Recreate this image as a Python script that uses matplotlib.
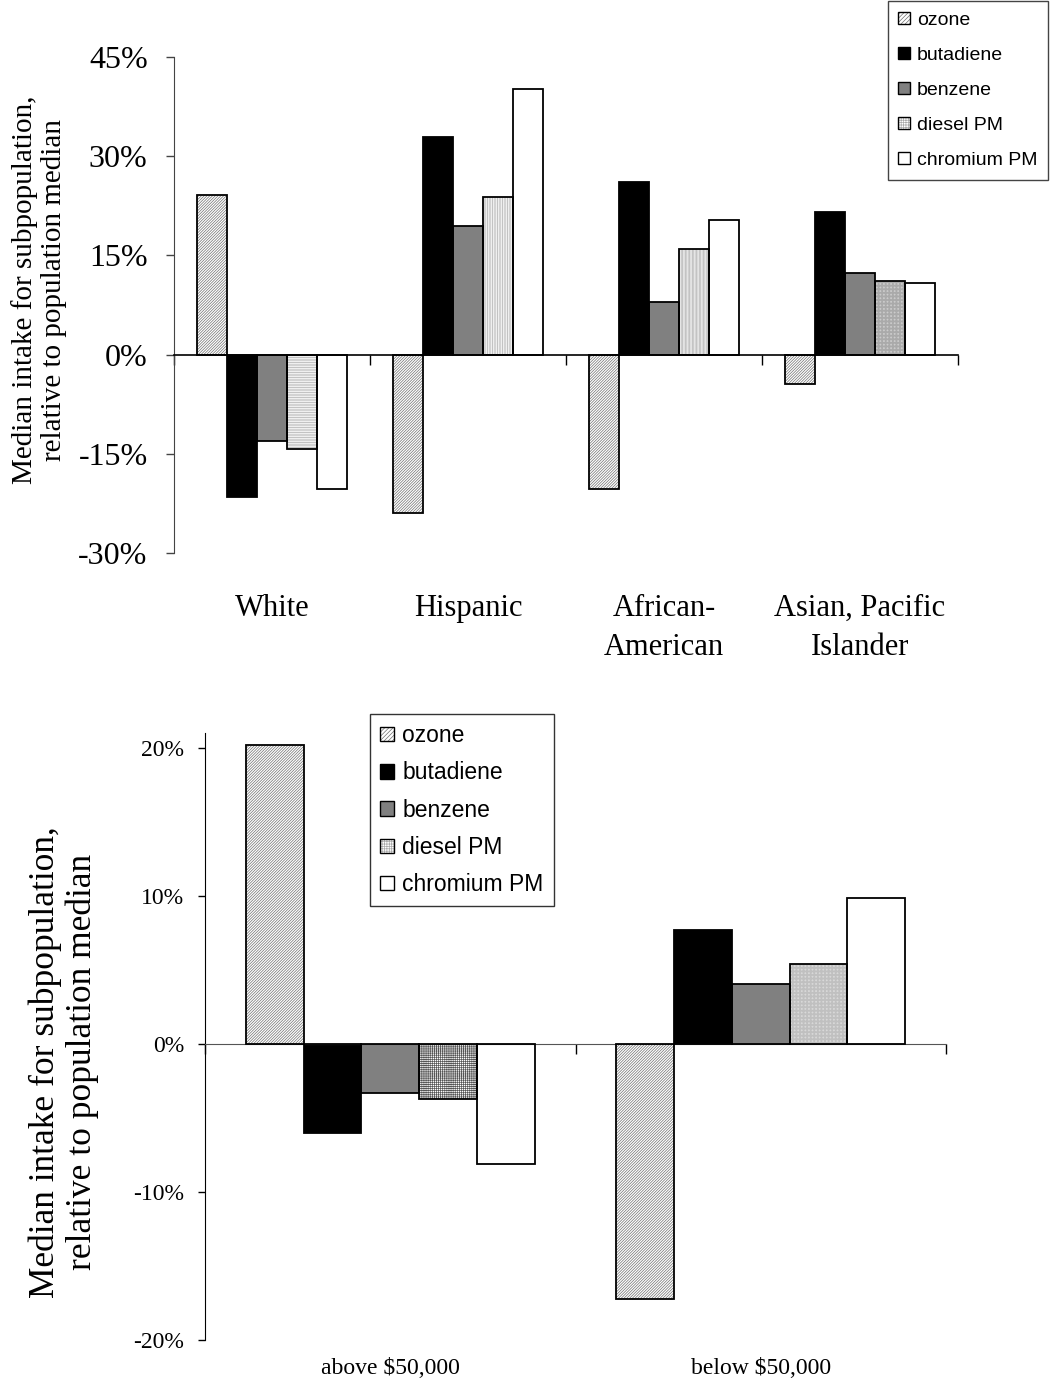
import numpy as np
import matplotlib
matplotlib.use('Agg')
import matplotlib.pyplot as plt
from matplotlib.patches import Patch
from matplotlib.legend_handler import HandlerTuple
from matplotlib.transforms import blended_transform_factory

plt.rcParams['font.family'] = ['Liberation Serif', 'DejaVu Serif']
plt.rcParams['hatch.linewidth'] = 0.5

# ---- data (percent relative to population median) ----
pollutants = ['ozone', 'butadiene', 'benzene', 'diesel PM', 'chromium PM']

race_groups = ['White', 'Hispanic', 'African-\nAmerican', 'Asian, Pacific\nIslander']
race_ozone = [24.2, -23.9, -20.4, -4.4]
race_butadiene = [-21.6, 32.9, 26.1, 21.5]
race_benzene = [-13.0, 19.5, 8.0, 12.4]
race_diesel = [-14.2, 23.9, 15.9, 11.2]
race_chromium = [-20.4, 40.2, 20.4, 10.9]

income_groups = ['above $50,000', 'below $50,000']
inc_ozone = [20.2, -17.2]
inc_butadiene = [-6.0, 7.7]
inc_benzene = [-3.3, 4.05]
inc_diesel = [-3.7, 5.4]
inc_chromium = [-8.1, 9.85]

# styles: (facecolor, hatch, hatch colour)
styles = [('white', '/' * 12, '#707070'),
          ('black', None, None),
          ('#808080', None, None),
          ('white', '+' * 10, '#aaaaaa'),
          ('white', None, None)]
race_diesel_hatch = ['-' * 10, '|' * 10, '|' * 12, '+' * 12]
inc_diesel_hatch = ['+' * 8, '+' * 12]
inc_diesel_hcol = ['#555555', '#c0c0c0']


def draw_bar(ax, x, h, w, fc, hatch, hcol):
    ax.bar(x, h, w, color=fc, edgecolor=hcol if hatch else fc,
           hatch=hatch, linewidth=0, zorder=2)
    ax.bar(x, h, w, fill=False, edgecolor='black', linewidth=1.3, zorder=3)


def legend_handles():
    hs = []
    for fc, hatch, hcol in styles:
        if hatch:
            h1 = Patch(facecolor=fc, edgecolor=hcol, hatch=hatch[:len(hatch) // 2 + 2],
                       linewidth=0)
        else:
            h1 = Patch(facecolor=fc, linewidth=0)
        h2 = Patch(fill=False, edgecolor='black', linewidth=1.0)
        hs.append((h1, h2))
    return hs


fig = plt.figure(figsize=(10.51, 13.95), dpi=100)

# ================= top chart =================
ax1 = fig.add_axes([0.1656, 0.6036, 0.7459, 0.3555])
w = 0.153
series = [race_ozone, race_butadiene, race_benzene, race_diesel, race_chromium]
for i, vals in enumerate(series):
    fc, hatch, hcol = styles[i]
    for j, v in enumerate(vals):
        hh = race_diesel_hatch[j] if i == 3 else hatch
        draw_bar(ax1, j + (i - 2) * w, v, w, fc, hh, hcol)

ax1.set_xlim(-0.5, len(race_groups) - 0.5)
ax1.set_ylim(-30, 45)
ax1.set_yticks(np.arange(-30, 46, 15))
ax1.set_yticklabels([f'{v:.0f}%' for v in np.arange(-30, 46, 15)])
ax1.tick_params(axis='y', labelsize=23, length=6, width=1, pad=13, color='#444444')
for s in ['top', 'right']:
    ax1.spines[s].set_visible(False)
ax1.spines['left'].set_color('#444444')
ax1.spines['bottom'].set_position(('data', 0))
ax1.spines['bottom'].set_linewidth(1.2)
ax1.set_xticks(np.arange(-0.5, len(race_groups), 1.0))
ax1.set_xticklabels([])
ax1.tick_params(axis='x', length=7, width=1)
tr1 = blended_transform_factory(ax1.transData, ax1.transAxes)
for j, lab in enumerate(race_groups):
    ax1.text(j, -0.082, lab, transform=tr1, ha='center', va='top',
             fontsize=22, linespacing=1.45)
ax1.set_ylabel('Median intake for subpopulation,\nrelative to population median',
               fontsize=21, linespacing=1.15)
ax1.yaxis.set_label_coords(-0.136, 0.53)

hmap = {tuple: HandlerTuple(ndivide=1, pad=0)}
fig.legend(legend_handles(), pollutants, loc='upper right',
           bbox_to_anchor=(1048 / 1051, 1 - 1 / 1395),
           handler_map=hmap,
           prop={'family': 'Liberation Sans', 'size': 14},
           handlelength=0.6, handleheight=0.6, handletextpad=0.35,
           labelspacing=0.93, borderpad=0.55, borderaxespad=0,
           fancybox=False, edgecolor='#444444', framealpha=1)

# ================= bottom chart =================
ax2 = fig.add_axes([0.1951, 0.0394, 0.7050, 0.4352])
w2 = 0.156
series2 = [inc_ozone, inc_butadiene, inc_benzene, inc_diesel, inc_chromium]
for i, vals in enumerate(series2):
    fc, hatch, hcol = styles[i]
    for j, v in enumerate(vals):
        hh, hc = (inc_diesel_hatch[j], inc_diesel_hcol[j]) if i == 3 else (hatch, hcol)
        draw_bar(ax2, j + (i - 2) * w2, v, w2, fc, hh, hc)

ax2.set_xlim(-0.5, len(income_groups) - 0.5)
ax2.set_ylim(-20, 21)
ax2.set_yticks(np.arange(-20, 21, 10))
ax2.set_yticklabels([f'{v:.0f}%' for v in np.arange(-20, 21, 10)])
ax2.tick_params(axis='y', labelsize=17, length=5, width=1, pad=10)
for s in ['top', 'right']:
    ax2.spines[s].set_visible(False)
ax2.spines['bottom'].set_position(('data', 0))
ax2.spines['bottom'].set_color('#555555')
ax2.set_xticks(np.arange(-0.5, len(income_groups), 1.0))
ax2.set_xticklabels([])
ax2.tick_params(axis='x', length=7, width=1)
tr2 = blended_transform_factory(ax2.transData, ax2.transAxes)
for j, lab in enumerate(income_groups):
    ax2.text(j, -0.03, lab, transform=tr2, ha='center', va='top', fontsize=17)
ax2.set_ylabel('Median intake for subpopulation,\nrelative to population median',
               fontsize=25.5, linespacing=1.15)
ax2.yaxis.set_label_coords(-0.143, 0.458)

ax2.legend(legend_handles(), pollutants, loc='upper left',
           bbox_to_anchor=((370 - 205) / 741, (1340 - 714) / 607),
           handler_map=hmap,
           prop={'family': 'Liberation Sans', 'size': 16.5},
           handlelength=0.6, handleheight=0.6, handletextpad=0.35,
           labelspacing=0.62, borderpad=0.45, borderaxespad=0,
           fancybox=False, edgecolor='#333333', framealpha=1)

fig.savefig('out.png', dpi=100)
